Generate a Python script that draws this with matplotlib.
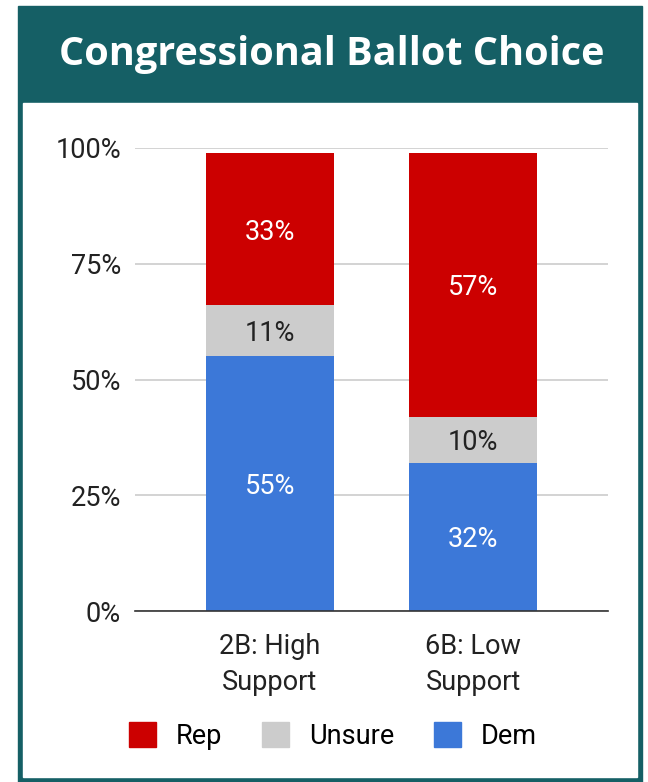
import numpy as np
import matplotlib.pyplot as plt
from matplotlib.patches import Rectangle, Patch

categories = ['2B: High\nSupport', '6B: Low\nSupport']
dem = [55, 32]
unsure = [11, 10]
rep = [33, 57]

teal = '#155F65'
col_rep = '#CC0000'
col_uns = '#CCCCCC'
col_dem = '#3C78D8'
fs = 19.5

W, H = 648, 782
fig = plt.figure(figsize=(W / 100, H / 100), dpi=100)
fig.patch.set_facecolor('white')

def fx(px):
    return px / W

def fy(py):
    return 1 - py / H

# frame and header
fig.patches.append(Rectangle((fx(18), fy(782)), fx(642) - fx(18), fy(6) - fy(782),
                             transform=fig.transFigure, color=teal, zorder=-10))
fig.patches.append(Rectangle((fx(23), fy(777)), fx(637) - fx(23), fy(103) - fy(777),
                             transform=fig.transFigure, color='white', zorder=-9))
fig.text(fx(332), fy(55), 'Congressional Ballot Choice', color='white',
         fontsize=28.5, fontweight='bold', family='Open Sans', ha='center', va='center')

ax = fig.add_axes([fx(135), fy(611), fx(608) - fx(135), fy(148) - fy(611)])
ax.set_facecolor('none')
x = np.arange(len(categories))
w = 0.635
ax.bar(x, dem, w, color=col_dem, label='Dem', zorder=3)
ax.bar(x, unsure, w, bottom=dem, color=col_uns, label='Unsure', zorder=3)
bot = np.array(dem) + np.array(unsure)
ax.bar(x, rep, w, bottom=bot, color=col_rep, label='Rep', zorder=3)

for i in range(len(x)):
    ax.text(x[i], dem[i] / 2, f'{dem[i]}%', ha='center', va='center_baseline', color='white',
            fontsize=fs, family='Roboto', zorder=4)
    ax.text(x[i], dem[i] + unsure[i] / 2, f'{unsure[i]}%', ha='center', va='center_baseline',
            color='#222222', fontsize=fs, family='Roboto', zorder=4)
    ax.text(x[i], bot[i] + rep[i] / 2, f'{rep[i]}%', ha='center', va='center_baseline', color='white',
            fontsize=fs, family='Roboto', zorder=4)

ax.set_xlim(-0.665, 1.665)
ax.set_ylim(0, 100)
ax.set_yticks([0, 25, 50, 75, 100])
ax.set_yticklabels(['0%', '25%', '50%', '75%', '100%'], family='Roboto', fontsize=fs, color='#222222')
ax.set_xticks(x)
ax.set_xticklabels(categories, family='Roboto', fontsize=fs, color='#222222', linespacing=1.4)
ax.tick_params(axis='both', length=0)
ax.tick_params(axis='y', pad=10)
ax.tick_params(axis='x', pad=16)
ax.grid(axis='y', color='#CCCCCC', linewidth=1.2, zorder=0)
for s in ['top', 'right', 'left']:
    ax.spines[s].set_visible(False)
ax.spines['bottom'].set_color('#333333')
ax.spines['bottom'].set_linewidth(1.2)
ax.spines['bottom'].set_zorder(5)

handles = [Patch(color=col_rep), Patch(color=col_uns), Patch(color=col_dem)]
fig.legend(handles, ['Rep', 'Unsure', 'Dem'], loc='center', bbox_to_anchor=(fx(333), fy(736)),
           ncol=3, frameon=False, prop={'family': 'Roboto', 'size': fs},
           handlelength=1.0, handleheight=1.0, handletextpad=0.75, columnspacing=1.45)

fig.savefig('out.png', dpi=100)
